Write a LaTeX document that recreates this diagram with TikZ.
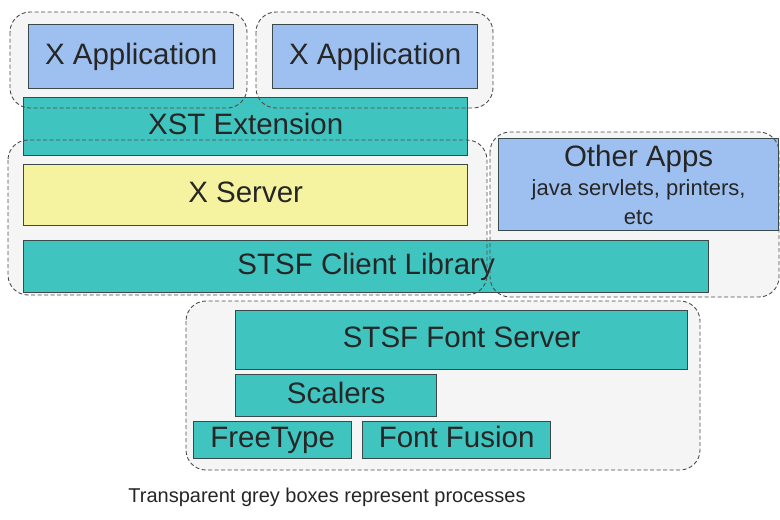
\documentclass[tikz,border=0pt]{standalone}
\usepackage{fontspec}
\setmainfont{Liberation Sans}
\definecolor{appblue}{HTML}{9DC0F0}
\definecolor{tealbox}{HTML}{40C4C0}
\definecolor{srvyellow}{HTML}{F6F3A0}
\definecolor{procgrey}{HTML}{E8E8E8}
\definecolor{edge}{HTML}{3A4A4A}
\begin{document}
\begin{tikzpicture}[x=1pt,y=-1pt,
  box/.style={draw=edge, line width=1.3pt, anchor=north west, inner sep=0pt, align=center, text=black!85, font=\fontsize{29.5}{32}\selectfont},
  oneline/.style={text height=21pt, text depth=6pt},
  procfill/.style={fill=procgrey, fill opacity=0.45, draw=none, rounded corners=20pt},
  procline/.style={draw=gray!60!black, line width=0.9pt, dash pattern=on 4pt off 2.5pt, rounded corners=20pt}]
\useasboundingbox (0,0) rectangle (780,520);
% process fills (behind)
\fill[procfill] (10,12) rectangle (247,108);
\fill[procfill] (256,12) rectangle (493,108);
\fill[procfill] (8,140) rectangle (487,295);
\fill[procfill] (490,132) rectangle (779,297);
\fill[procfill] (186,301) rectangle (700,470);
% component boxes
\node[box, oneline, fill=appblue, minimum width=205pt, minimum height=64pt] (app1) at (28,24) {X Application};
\node[box, oneline, fill=appblue, minimum width=205pt, minimum height=64pt] (app2) at (272,24) {X Application};
\node[box, oneline, fill=tealbox, minimum width=444pt, minimum height=58pt] (xst) at (23,97) {XST Extension};
\node[box, oneline, fill=srvyellow, minimum width=444pt, minimum height=61pt] (xsrv) at (23,164) {X Server};
\node[box, oneline, fill=tealbox, minimum width=685pt, minimum height=52pt] (client) at (23,240) {STSF Client Library};
\node[box, fill=appblue, minimum width=280pt, minimum height=92pt] (other) at (498,138) {Other Apps\\[-3pt]{\fontsize{22}{26}\selectfont java servlets, printers,}\\[-3pt]{\fontsize{22}{26}\selectfont etc}};
\node[box, oneline, fill=tealbox, minimum width=452pt, minimum height=59pt] (fsrv) at (235,310) {STSF Font Server};
\node[box, oneline, fill=tealbox, minimum width=201pt, minimum height=42pt] (scal) at (235,374) {Scalers};
\node[box, oneline, fill=tealbox, minimum width=158pt, minimum height=37pt] (ft) at (193,421) {FreeType};
\node[box, oneline, fill=tealbox, minimum width=188pt, minimum height=37pt] (ff) at (362,421) {Font Fusion};
% process outlines (on top)
\draw[procline] (10,12) rectangle (247,108);
\draw[procline] (256,12) rectangle (493,108);
\draw[procline] (8,140) rectangle (487,295);
\draw[procline] (490,132) rectangle (779,297);
\draw[procline] (186,301) rectangle (700,470);
% caption
\node[font=\fontsize{20}{24}\selectfont, text=black!85] (cap) at (327,497) {Transparent grey boxes represent processes};
\end{tikzpicture}
\end{document}
